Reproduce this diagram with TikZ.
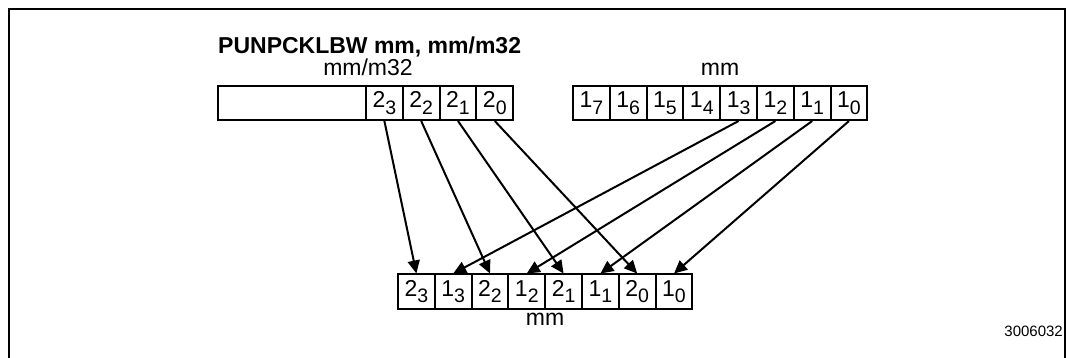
\documentclass[tikz,border=0pt]{standalone}
\usepackage{fontspec}
\setmainfont{Liberation Sans}
\usetikzlibrary{arrows.meta}
\newcommand{\bytesub}[2]{#1\raisebox{-6.5pt}{\fontsize{19.5}{19.5}\selectfont#2}}
\tikzset{
  cell/.style={draw,line width=2pt,minimum width=36.8pt,minimum height=34pt,inner sep=0pt,font=\fontsize{23}{23}\selectfont},
  lbl/.style={font=\fontsize{23}{23}\selectfont,anchor=base,inner sep=0pt},
  moveto/.style={line width=2pt,-{Triangle[length=13pt,width=12pt]}}
}
\begin{document}
\begin{tikzpicture}[x=1pt,y=-1pt]
    \useasboundingbox (0,0) rectangle (1066,358);
    \draw[line width=1.3pt] (9,358) -- (9,9) -- (1065,9) -- (1065,358);

    % title
    \node[anchor=base west,inner sep=0pt,font=\fontsize{23}{23}\selectfont\bfseries] (title) at (218,54) {PUNPCKLBW mm, mm/m32};

    % source mm/m32
    \node[cell,minimum width=148pt] (srcpad) at (292,103) {};
    \foreach \i [count=\k from 0] in {3,2,1,0}
        \node[cell] (s\i) at ({384.4+36.8*\k},103) {\bytesub{2}{\i}};
    \node[lbl] (srclbl) at (368,76) {mm/m32};

    % destination mm
    \foreach \i [count=\k from 0] in {7,6,...,0}
        \node[cell] (d\i) at ({591.4+36.8*\k},103) {\bytesub{1}{\i}};
    \node[lbl] (dstlbl) at (720,76) {mm};

    % result mm
    \foreach \n/\i [count=\k from 0] in {2/3,1/3,2/2,1/2,2/1,1/1,2/0,1/0}
        \node[cell] (r\n\i) at ({416.4+36.8*\k},291.5) {\bytesub{\n}{\i}};
    \node[lbl] (reslbl) at (545,325) {mm};

    % interleave
    \foreach \i in {3,2,1,0}
        \draw[moveto] (s\i.south) -- (r2\i.north);
    \foreach \i in {3,2,1,0}
        \draw[moveto] (d\i.south) -- (r1\i.north);

    \node[anchor=base east,inner sep=0pt,font=\fontsize{15}{15}\selectfont] (figid) at (1063,336) {3006032};
\end{tikzpicture}
\end{document}
